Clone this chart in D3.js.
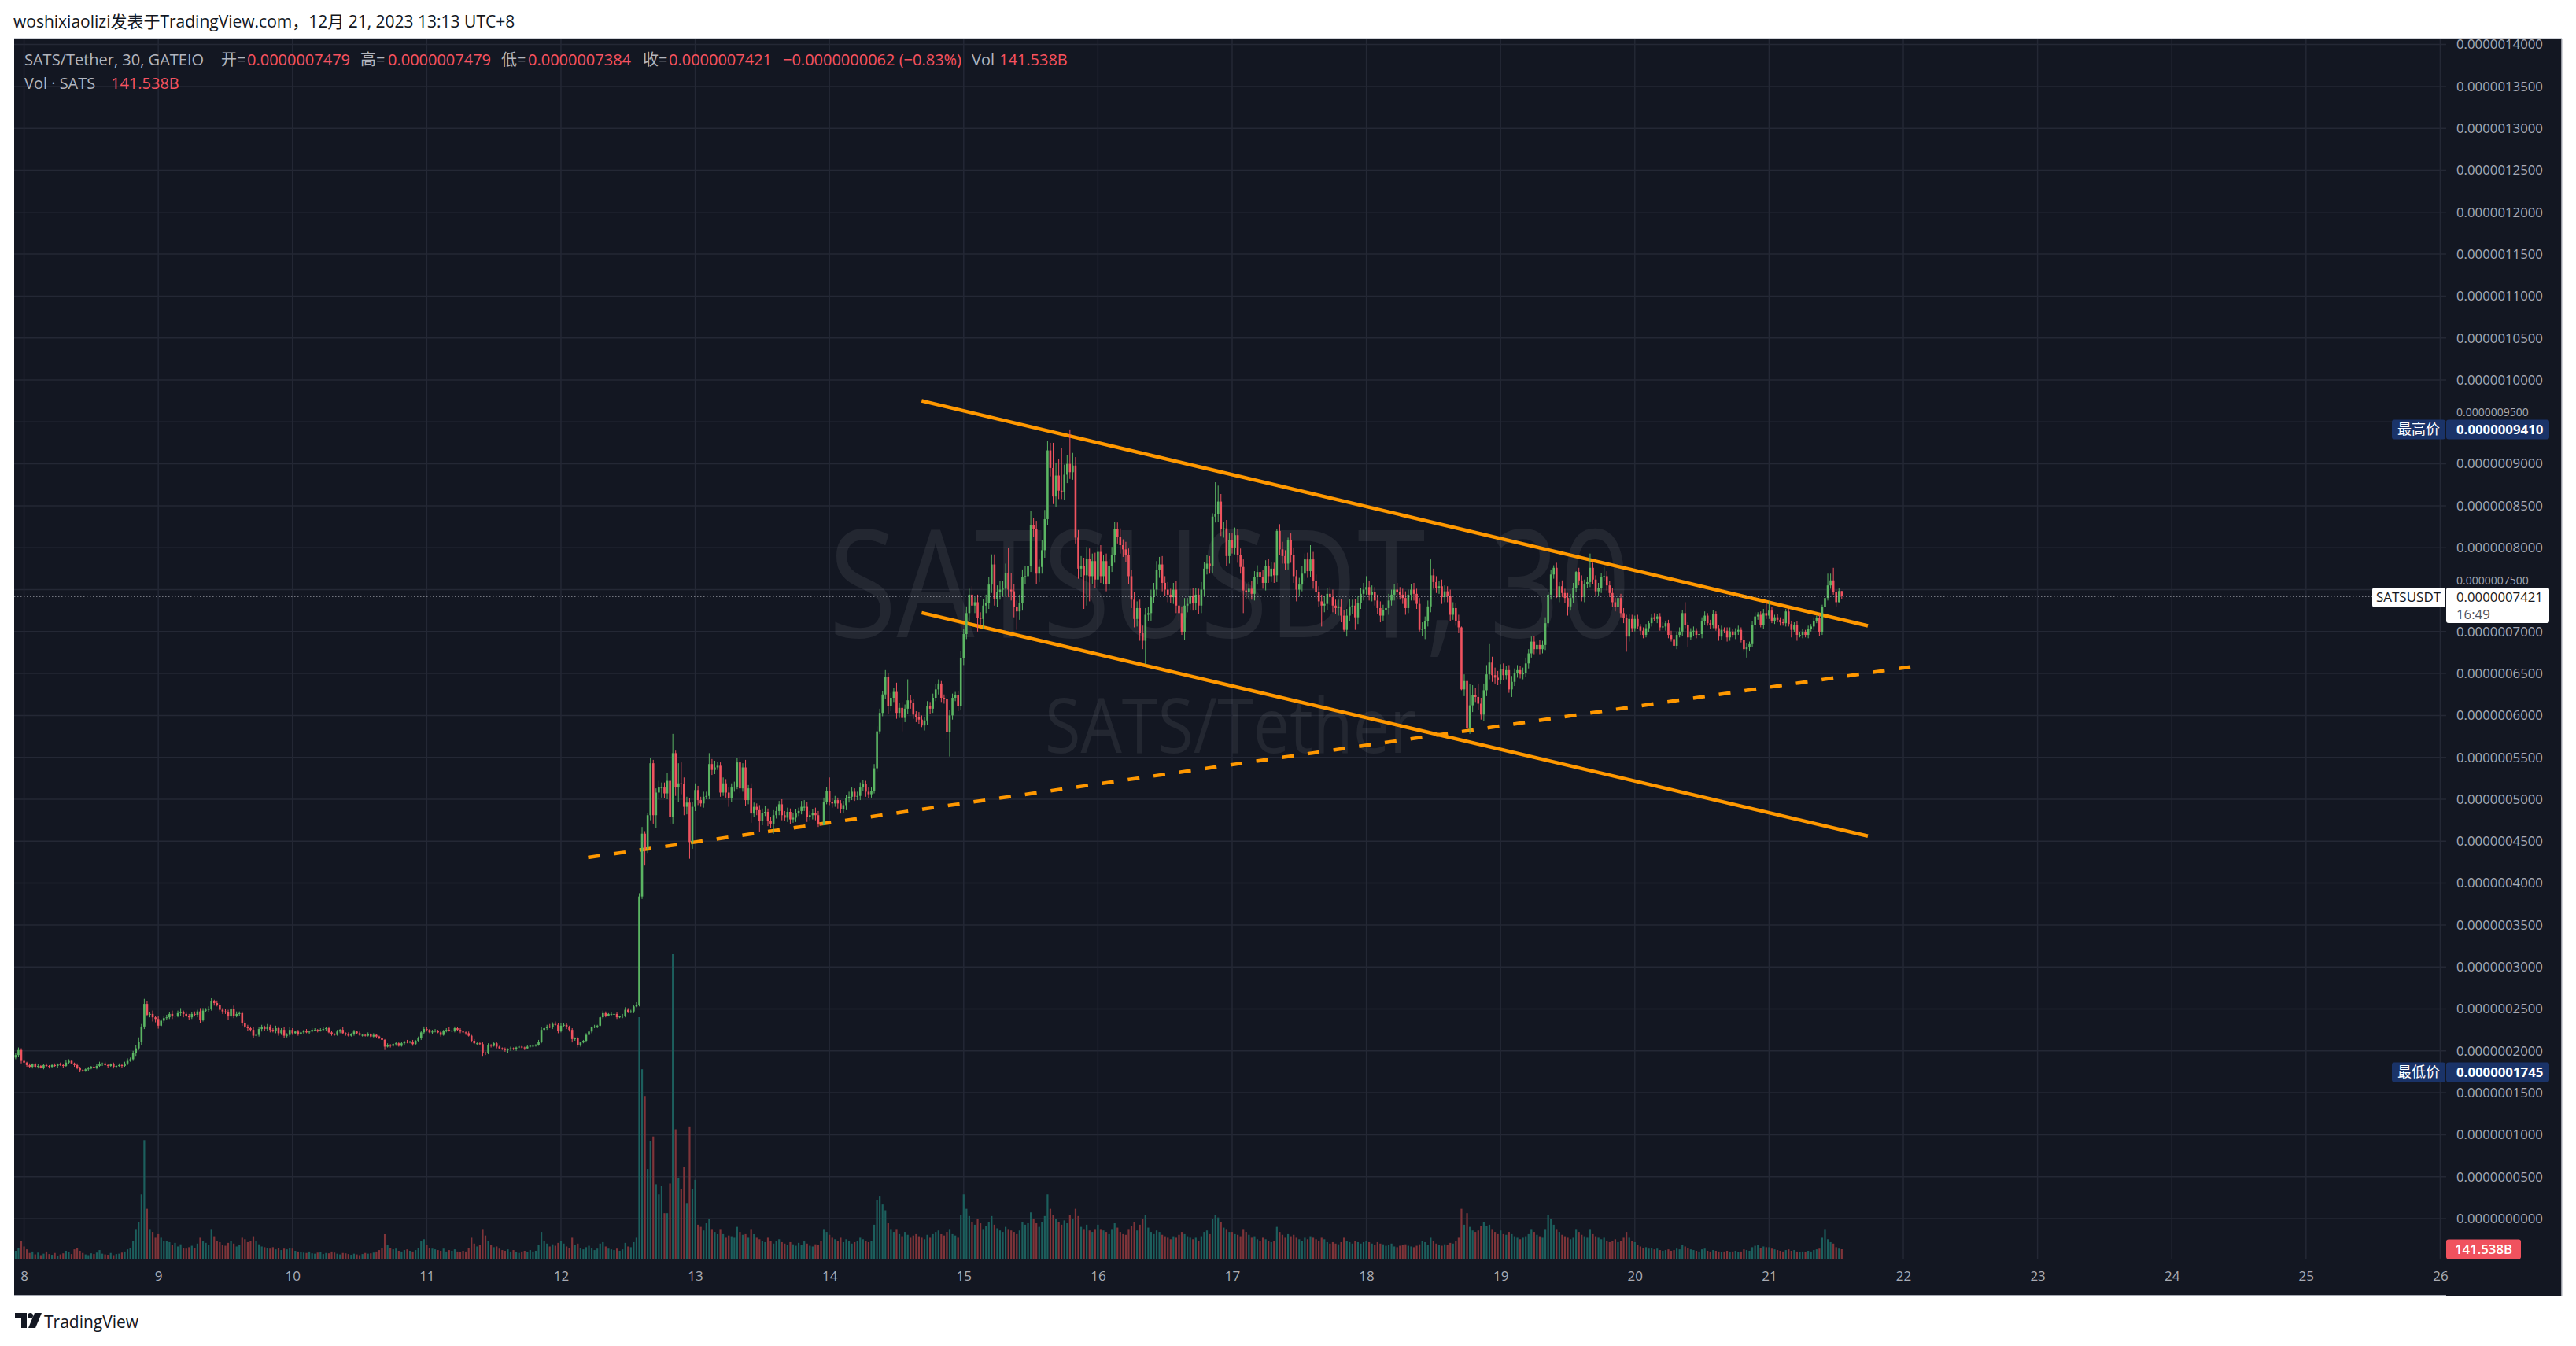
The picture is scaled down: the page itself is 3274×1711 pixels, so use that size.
<!DOCTYPE html>
<html><head><meta charset="utf-8">
<script src="https://cdn.jsdelivr.net/npm/d3@7"></script>
<style>html,body{margin:0;padding:0;background:#ffffff;}svg{display:block;}</style>
</head><body>
<svg id="chart" width="3274" height="1711"></svg>
<script>
// ===== DATA (prices in units of 1e-9 USDT, volume in billions) =====
const rowDays = [7,8,9,10,11,12,13,14,15,16,17,18,19,20,21];
const firstRowStartMin = 22*60+30;   // first row (Dec 7) starts 22:30
const firstOpen = 192;
const closeRows = [
[195,201,188],
[186,183,181,184,181,182,180,183,182,181,183,182,
 184,183,182,186,188,185,183,180,177,176,178,179,
 181,180,182,184,185,183,182,184,181,182,183,182,
 185,188,190,197,203,211,229,256,243,244,240,238],
[230,236,239,240,244,241,242,245,246,244,242,240,
 244,243,247,237,248,249,250,259,257,255,249,247,
 246,241,250,242,244,245,233,229,227,225,218,219,
 226,228,226,229,225,224,227,221,225,218,219,225],
[221,223,220,222,224,222,223,225,225,224,225,226,
 227,222,220,219,223,225,221,220,218,220,223,221,
 219,219,218,220,217,219,217,215,213,205,207,206,
 208,209,206,209,211,210,211,208,212,215,222,226],
[225,222,223,224,222,219,224,225,224,224,227,225,
 223,222,221,218,212,209,209,208,198,197,207,206,
 209,205,203,202,201,202,203,202,204,205,204,203,
 205,206,206,207,211,225,227,229,228,232,231,224],
[230,231,229,225,214,215,207,210,212,219,223,228,
 229,230,240,245,242,244,244,244,240,241,242,249,
 246,247,253,255,384,459,441,481,543,481,508,514,
 514,507,522,479,555,514,519,518,491,496,449,491],
[511,499,495,503,504,542,535,538,540,508,519,508,
 501,514,515,544,513,538,499,513,483,491,487,474,
 484,485,474,471,481,486,494,481,478,485,476,478,
 483,486,491,491,479,481,484,481,471,469,497,510],
[497,495,499,495,488,493,501,503,509,503,504,514,
 518,509,506,510,537,581,603,625,646,611,621,628,
 603,609,597,608,618,615,601,598,595,588,594,611,
 608,621,631,638,621,620,580,600,621,624,611,668],
[697,722,744,731,735,716,715,731,734,756,780,739,
 747,750,751,770,750,748,729,724,734,765,766,778,
 827,822,769,777,797,834,916,895,861,886,868,866,
 887,900,890,898,812,775,778,767,787,766,784,762],
[795,766,784,757,778,791,822,813,803,798,791,766,
 738,715,728,698,689,720,722,741,750,773,780,758,
 750,744,741,750,731,722,699,731,733,743,734,744,
 731,750,775,781,778,837,840,855,822,823,790,809],
[800,815,791,777,749,747,751,745,765,771,765,758,
 778,766,775,767,820,798,790,781,809,791,766,750,
 756,769,786,772,786,760,747,736,731,733,745,741,
 731,728,730,719,702,719,730,731,717,734,745,750],
[753,744,747,737,728,719,726,728,737,744,750,747,
 744,740,728,744,750,745,733,702,703,712,730,767,
 759,752,754,741,748,742,720,728,713,705,631,641,
 585,612,624,622,614,601,630,649,663,648,645,642],
[655,648,654,631,640,651,654,649,651,662,674,688,
 679,684,679,684,710,744,768,776,741,754,746,740,
 730,740,752,771,761,741,757,759,776,762,748,752,
 765,766,755,746,735,729,740,722,716,694,715,704],
[715,706,701,696,704,710,717,715,718,705,706,710,
 696,691,683,696,700,722,708,693,700,701,696,697,
 712,719,710,708,721,704,694,702,701,693,700,696,
 700,702,690,679,681,685,708,718,720,708,722,719],
[725,713,717,714,711,710,724,709,702,708,696,696,
 699,696,703,706,713,716,699,729,740,755,761,747,
 735,748.3,742.1]
];
const wickUpRows = [
[2,3,2],
[2,1,2,1,2,2,1,1,2,1,1,2,1,2,1,3,2,1,1,2,1,1,1,2,1,2,2,3,1,2,1,1,2,1,2,1,2,3,2,3,4,5,3,6,3,2,4,2],
[3,2,2,3,2,4,2,3,5,2,3,2,2,3,2,4,3,2,3,4,2,3,2,2,3,3,2,4,3,2,2,3,2,2,3,2,2,3,2,3,2,2,3,2,2,3,2,3],
[2,1,2,2,1,2,1,2,2,1,2,2,1,2,2,1,2,1,3,1,2,1,2,1,2,1,1,2,1,2,1,1,2,1,2,1,1,2,1,2,1,2,1,2,1,2,2,3],
[2,1,2,2,1,2,1,2,3,1,2,1,2,1,1,2,1,2,1,1,2,1,2,1,1,2,1,1,2,1,2,1,1,2,1,1,2,1,2,1,2,3,2,2,3,2,3,2],
[3,2,2,1,2,1,2,1,1,2,1,1,2,1,2,3,2,1,2,1,2,1,2,3,2,2,2,3,4,8,3,3,6,4,5,8,6,6,9,12,23,3,24,25,8,7,5,6],
[8,5,4,6,5,13,6,8,5,4,7,5,6,5,6,5,7,5,9,4,6,5,4,6,5,7,4,5,6,5,4,6,5,5,4,6,5,4,7,8,6,5,4,6,5,4,5,5],
[16,4,5,3,4,5,4,6,5,4,5,6,5,4,5,4,5,6,5,4,8,5,6,5,11,6,7,5,25,6,5,4,6,5,4,6,5,5,6,5,3,4,5,6,5,4,5,9],
[6,8,7,10,6,9,7,8,10,9,12,12,8,10,9,11,30,20,9,8,10,9,12,10,17,8,10,9,12,11,11,9,30,15,20,51,12,10,41,15,10,9,12,10,14,12,9,10],
[6,8,7,9,8,10,9,8,10,7,9,8,7,9,8,10,9,8,7,9,8,11,9,10,8,9,7,8,10,9,8,9,7,8,9,8,7,9,8,10,9,4,38,19,9,8,10,9],
[8,9,7,8,9,7,8,9,7,8,9,8,7,9,8,7,2,8,9,7,3,8,9,7,8,9,7,8,17,9,8,7,8,9,7,8,9,7,8,9,7,8,9,7,8,9,7,8],
[13,7,8,6,7,8,6,7,8,6,7,8,6,7,8,6,7,8,6,7,8,6,7,19,8,7,6,8,7,6,8,7,6,7,1,8,3,25,12,9,16,7,8,11,22,7,9,8],
[6,7,5,6,7,5,6,5,6,7,5,6,7,5,6,5,7,4,6,3,6,5,7,5,6,5,6,1,5,6,5,6,17,6,5,6,5,11,6,5,6,5,6,5,6,4,6,5],
[4,5,3,4,5,3,4,5,3,4,5,3,4,5,3,4,5,4,13,3,4,5,3,4,5,5,3,4,5,3,4,5,3,4,5,3,4,5,3,4,5,3,4,5,3,4,5,14],
[11,4,3,4,3,4,3,3,4,3,4,3,4,3,4,3,4,3,4,3,4,14,8,15,3,3,0]
];
const wickDownRows = [
[2,2,3],
[3,2,1,2,1,2,1,2,1,2,1,1,2,1,2,1,2,1,2,2,2.5,1,1,2,1,1,2,1,2,1,2,1,2,1,1,2,1,2,1,2,3,2,4,3,2,3,5,4],
[3.5,2,3,2,2,3,2,2,3,4,2,3,2,2,3,4,2,2,3,2,3,2,2,3,2,4,2,3,2,2,3,2,3,2,3,2,2,3,2,2,3,2,3,3,2,3,2,2],
[2,1,2,1,2,1,2,1,1,2,1,1,2,1,2,1,1,2,1,2,1,1,2,1,1,2,1,1,2,1,2,1,2,4,1,2,1,2,1,1,2,1,1,2,1,1,2,2],
[2,1,2,1,1,2,1,2,1,1,2,1,2,1,2,1,2,1,2,1,4,2,1,2,1,2,1,1,2,4,2,1,2,1,1,2,1,1,2,1,1,2,1,2,1,2,1,3],
[2,1,3,2,4,2,3,2,1,2,1,2,1,2,1,2,2,1,2,1,2,1,2,2,1,1,2,1,2,3,20,5,6,10,15,8,12,6,7,9,8,10,17,12,10,9,20,8],
[5,6,4,5,3,4,6,5,3,5,4,6,10,4,5,3,6,4,7,5,11,4,6,13,5,4,6,5,12,4,5,6,4,5,6,4,5,3,4,5,6,4,5,6,4,5,0,3],
[4,5,4,6,5,4,6,5,4,5,4,5,4,6,5,4,3,4,3,4,5,9,6,5,7,6,16,5,6,7,5,6,5,2,6,5,6,5,4,6,5,6,8,29,5,4,6,5],
[8,6,10,8,9,16,8,12,9,7,10,8,10,9,8,10,9,11,12,22,10,9,8,10,7,9,12,10,8,9,7,10,9,12,10,8,9,10,8,9,7,12,10,40,36,30,9,10],
[9,8,10,9,8,7,9,8,10,9,8,9,10,10,9,9,10,28,8,9,7,8,9,10,8,9,7,8,9,10,3,9,8,7,9,8,10,9,8,7,9,8,7,9,8,10,12,9],
[7,8,9,8,27,8,9,7,8,9,8,7,9,8,7,9,8,7,9,8,7,9,8,14,7,8,9,8,7,9,8,7,25,8,7,9,8,7,9,8,2,8,7,9,15,8,7,8],
[6,7,8,6,7,8,6,7,8,6,7,8,6,7,8,6,7,8,6,2,7,12,6,7,8,6,7,8,6,7,8,6,6,7,1,8,2,7,8,6,7,6,8,7,6,8,7,6],
[5,6,5,4,9,5,6,5,6,5,6,5,6,5,6,5,6,5,6,5,1,6,5,6,11,5,6,5,6,5,6,5,6,5,6,5,6,5,6,5,6,5,6,5,6,18,6,5],
[4,3,5,4,3,5,4,3,5,4,3,5,4,3,2,4,3,5,4,11,3,5,4,3,5,4,3,5,4,3,5,4,3,5,4,3,5,4,3,3,10,4,3,5,4,3,5,4],
[4,3,4,3,4,3,4,3,9,3,7,3,4,3,4,3,4,3,4,3,4,3,4,3,5,0,3.7]
];
const volumeRows = [
[120,160,260],
[180,140,90,110,70,95,60,80,110,75,65,90,55,70,85,120,100,75,140,160,120,90,70,60,85,75,95,130,80,70,65,90,60,75,80,95,110,140,160,260,420,520,900,1650,700,420,380,300],
[360,300,250,260,240,200,230,180,210,160,150,170,190,160,220,300,250,230,200,420,320,260,240,200,190,230,260,220,180,200,300,280,240,260,320,250,210,180,170,160,150,170,140,160,130,150,140,160],
[150,120,110,100,95,90,110,85,80,95,100,75,90,85,110,95,80,70,90,85,75,65,80,70,60,75,90,80,85,95,110,130,160,350,200,160,140,150,120,110,130,140,120,110,130,160,250,280],
[200,160,150,140,130,120,150,110,130,120,140,110,100,120,110,160,300,220,180,200,420,330,260,200,170,180,150,130,120,140,110,130,100,90,110,120,100,130,110,120,200,380,260,220,180,210,190,230],
[260,220,180,160,300,200,220,160,140,170,190,160,130,150,220,240,180,150,140,130,150,120,140,230,180,170,240,300,3350,2630,2260,1250,1640,1700,1040,900,1020,640,640,1050,4220,1800,1130,970,1280,780,1840,970],
[1100,480,450,400,500,560,420,380,350,420,360,300,330,320,300,450,380,340,360,300,420,350,300,280,260,240,300,250,220,260,280,240,220,200,240,210,190,230,200,250,220,190,180,210,200,260,420,380],
[340,300,280,260,300,240,280,260,220,240,260,300,280,250,240,260,480,820,880,760,680,500,420,380,420,360,320,380,340,300,330,360,320,300,280,340,300,360,380,400,350,330,380,420,360,330,300,620],
[900,700,600,520,480,560,500,420,460,520,600,480,430,400,380,450,420,400,380,360,400,520,480,500,650,560,500,450,520,600,900,700,620,560,520,480,540,500,620,560,700,600,450,420,480,400,380,420],
[480,420,400,380,360,420,500,440,380,360,340,420,460,520,400,480,560,620,440,380,360,400,380,340,320,300,280,320,300,340,380,360,320,300,280,300,260,320,380,400,360,560,620,580,520,440,420,380],
[380,360,340,320,420,380,340,300,320,280,260,300,280,260,240,260,450,380,340,300,360,320,340,300,280,260,300,280,320,300,280,260,300,280,240,220,240,220,210,240,300,260,240,220,260,240,220,240],
[260,240,220,200,240,220,210,190,200,220,180,170,190,200,210,190,180,170,190,210,260,240,200,300,260,220,200,190,210,200,230,220,250,300,700,480,640,450,400,380,400,460,520,460,480,420,380,360],
[400,360,340,380,360,320,300,280,300,320,360,420,380,340,320,300,420,620,560,480,420,380,340,320,300,280,300,420,380,340,320,300,420,360,320,300,280,300,260,240,260,280,240,260,300,380,300,260],
[240,200,180,160,170,150,160,140,150,130,120,130,140,120,130,150,140,200,180,160,140,130,120,110,140,150,120,110,130,120,110,100,110,120,100,110,120,100,110,140,130,120,170,190,200,160,180,170],
[170,150,140,130,120,110,130,140,120,130,110,100,110,100,120,110,130,140,150,300,420,280,240,220,170,150,141.538]
];
// trend lines drawn on the chart: [time, price(1e-9)]
const channelUpper = [[Date.UTC(2023,11,14,16,29), 975.1], [Date.UTC(2023,11,21,17,40), 706.8]];
const channelLower = [[Date.UTC(2023,11,14,16,29), 722.5], [Date.UTC(2023,11,21,17,40), 456.1]];
const supportDashed = [[Date.UTC(2023,11,12,4,51), 430.6], [Date.UTC(2023,11,22,1,16), 657.9]];
// axis tick values
const priceTicks = d3.range(0, 1401, 50);          // 1e-9 units
const dayTicks = d3.range(8, 27);                   // Dec 8 .. Dec 26
// legend texts
const titleText = "woshixiaolizi发表于TradingView.com，12月 21, 2023 13:13 UTC+8";
const symbolText = "SATS/Tether, 30, GATEIO";
const legendLabels = ["开=", "高=", "低=", "收="];
const legendValues = [747.9, 747.9, 738.4, 742.1];
const legendChange = ["−0.0000000062 (−0.83%)"];
const lastVolumeText = "141.538B";
const countdownText = "16:49";

// ===== LAYOUT =====
const paneL = 18, paneR = 3109, paneT = 49, plotB = 1601, paneB = 1647, axisR = 3256;
const FONT = "'Open Sans','Noto Sans CJK SC',sans-serif";
const BG = "#131722", GRID = "#242835", AXIS_TXT = "#a9acb5";
const UP = "#5bb563", DOWN = "#f0535f";
const VUP = "#1c5f5d", VDOWN = "#7f3439";

const svg = d3.select("#chart");

// build candles
const candles = [];
let prevClose = firstOpen;
closeRows.forEach((row, r) => {
  const start = r === 0 ? firstRowStartMin : 0;
  row.forEach((c, j) => {
    const t = new Date(Date.UTC(2023, 11, rowDays[r], 0, start + 30 * j));
    const o = prevClose;
    candles.push({t, o, c,
      h: Math.max(o, c) + wickUpRows[r][j],
      l: Math.min(o, c) - wickDownRows[r][j],
      v: volumeRows[r][j]});
    prevClose = c;
  });
});

const x = d3.scaleUtc()
  .domain([new Date(Date.UTC(2023,11,7,22,14)), new Date(Date.UTC(2023,11,26,1,4))])
  .range([paneL, paneR]);
const y = d3.scaleLinear().domain([0, 1400]).range([1549, 56.6]);
const yv = d3.scaleLinear().domain([0, d3.max(candles, d => d.v)]).range([plotB, 1213]);
const fmt = v => (v * 1e-9).toFixed(10);
const last = candles[candles.length - 1];
const hiVal = d3.max(candles, d => d.h), loVal = d3.min(candles, d => d.l);

// background
svg.append("rect").attr("x", paneL).attr("y", paneT).attr("width", axisR - paneL).attr("height", paneB - paneT).attr("fill", BG);

// grid
const grid = svg.append("g");
grid.selectAll("line.h").data(priceTicks).join("line")
  .attr("x1", paneL).attr("x2", paneR).attr("y1", d => y(d)).attr("y2", d => y(d))
  .attr("stroke", GRID).attr("stroke-width", 1.5);
grid.selectAll("line.v").data(dayTicks).join("line")
  .attr("x1", d => x(new Date(Date.UTC(2023,11,d)))).attr("x2", d => x(new Date(Date.UTC(2023,11,d))))
  .attr("y1", paneT).attr("y2", plotB)
  .attr("stroke", GRID).attr("stroke-width", 1.5);

// watermark
svg.append("text").attr("x", 1563).attr("y", 810).attr("text-anchor", "middle")
  .attr("font-family", FONT).attr("font-size", 190).attr("textLength", 1019).attr("lengthAdjust", "spacingAndGlyphs")
  .attr("fill", "rgba(255,255,255,0.07)").text("SATSUSDT, 30");
svg.append("text").attr("x", 1564).attr("y", 957).attr("text-anchor", "middle")
  .attr("font-family", FONT).attr("font-size", 97).attr("textLength", 472).attr("lengthAdjust", "spacingAndGlyphs")
  .attr("fill", "rgba(255,255,255,0.07)").text("SATS/Tether");

// volume bars
svg.append("g").selectAll("rect").data(candles).join("rect")
  .attr("x", d => x(d.t) - 1.1).attr("width", 2.2)
  .attr("y", d => yv(d.v)).attr("height", d => plotB - yv(d.v))
  .attr("fill", d => d.c >= d.o ? VUP : VDOWN);

// trend lines
const line = d3.line().x(d => x(new Date(d[0]))).y(d => y(d[1]));
[channelUpper, channelLower].forEach(seg => {
  svg.append("path").attr("d", line(seg)).attr("stroke", "#ff9800").attr("stroke-width", 4.5).attr("fill", "none");
});
svg.append("path").attr("d", line(supportDashed)).attr("stroke", "#ff9800").attr("stroke-width", 4.5)
  .attr("stroke-dasharray", "15 18").attr("fill", "none");

// candles
const cg = svg.append("g");
cg.selectAll("line").data(candles).join("line")
  .attr("x1", d => x(d.t)).attr("x2", d => x(d.t))
  .attr("y1", d => y(d.h)).attr("y2", d => y(d.l))
  .attr("stroke", d => d.c >= d.o ? UP : DOWN).attr("stroke-width", 1);
cg.selectAll("rect").data(candles).join("rect")
  .attr("x", d => x(d.t) - 1.3).attr("width", 2.6)
  .attr("y", d => y(Math.max(d.o, d.c)))
  .attr("height", d => Math.max(1, Math.abs(y(d.o) - y(d.c))))
  .attr("fill", d => d.c >= d.o ? UP : DOWN);

// last price dotted line
svg.append("line").attr("x1", paneL).attr("x2", 3015).attr("y1", y(last.c)).attr("y2", y(last.c))
  .attr("stroke", "#d1d4dc").attr("stroke-width", 1.2).attr("stroke-dasharray", "1.5 2.5");

// price axis; labels that would sit under a price tag are lifted just above the tag
const tagTops = [y(hiVal) - 12.5, y(last.c) - 11];
const ya = svg.append("g").attr("transform", `translate(${paneR},0)`)
  .call(d3.axisRight(y).tickValues(priceTicks).tickFormat(fmt).tickSize(0).tickPadding(13));
ya.select(".domain").remove();
ya.selectAll("text").attr("fill", AXIS_TXT).attr("font-family", FONT).attr("font-size", 16.8);
ya.selectAll(".tick").each(function(d) {
  const yt = y(d);
  const hit = tagTops.find(t => yt > t - 12 && yt < t + 30);
  if (hit !== undefined) {
    d3.select(this).select("text").attr("font-size", 14).attr("dy", null).attr("y", hit - yt - 4.5);
  }
});

// time axis
const xa = svg.append("g").attr("transform", `translate(0,${plotB})`)
  .call(d3.axisBottom(x).tickValues(dayTicks.map(d => new Date(Date.UTC(2023,11,d)))).tickFormat(d => d.getUTCDate()).tickSize(0).tickPadding(15));
xa.select(".domain").remove();
xa.selectAll("text").attr("fill", AXIS_TXT).attr("font-family", FONT).attr("font-size", 17);

// frame borders
svg.append("line").attr("x1", paneL).attr("x2", axisR).attr("y1", paneT).attr("y2", paneT).attr("stroke", "#c3c6ce").attr("stroke-width", 1.5);
svg.append("line").attr("x1", paneL).attr("x2", paneR).attr("y1", paneB).attr("y2", paneB).attr("stroke", "#a3a6af").attr("stroke-width", 2);
svg.append("line").attr("x1", axisR).attr("x2", axisR).attr("y1", paneT).attr("y2", paneB).attr("stroke", "#c3c6ce").attr("stroke-width", 1.5);

// high / low labels
function tagPair(labelTxt, valTxt, yc, fillC, txtC, leftX) {
  const g = svg.append("g");
  g.append("rect").attr("x", leftX).attr("y", yc - 12.5).attr("width", paneR - 1 - leftX).attr("height", 25).attr("rx", 3).attr("fill", fillC);
  g.append("rect").attr("x", paneR).attr("y", yc - 12.5).attr("width", 131).attr("height", 25).attr("rx", 3).attr("fill", fillC);
  g.append("text").attr("x", (leftX + paneR - 1) / 2).attr("y", yc).attr("dy", "0.35em").attr("text-anchor", "middle")
    .attr("font-family", FONT).attr("font-size", 18).attr("fill", txtC).text(labelTxt);
  g.append("text").attr("x", paneR + 13).attr("y", yc).attr("dy", "0.35em")
    .attr("font-family", FONT).attr("font-size", 16.8).attr("font-weight", 700).attr("fill", txtC).text(valTxt);
}
tagPair("最高价", fmt(hiVal), y(hiVal), "#1a3368", "#ffffff", 3040);
tagPair("最低价", fmt(loVal), y(loVal), "#1a3368", "#ffffff", 3040);

// last price label
{
  const yc = y(last.c);
  const g = svg.append("g");
  g.append("rect").attr("x", 3015).attr("y", yc - 11).attr("width", 93).attr("height", 25).attr("rx", 3).attr("fill", "#ffffff");
  g.append("rect").attr("x", paneR).attr("y", yc - 11).attr("width", 131).attr("height", 45).attr("rx", 3).attr("fill", "#ffffff");
  g.append("text").attr("x", 3061).attr("y", yc + 1.5).attr("dy", "0.35em").attr("text-anchor", "middle")
    .attr("font-family", FONT).attr("font-size", 17).attr("fill", "#131722").text("SATSUSDT");
  g.append("text").attr("x", paneR + 13).attr("y", yc + 1.5).attr("dy", "0.35em")
    .attr("font-family", FONT).attr("font-size", 16.8).attr("fill", "#131722").text(fmt(last.c));
  g.append("text").attr("x", paneR + 13).attr("y", yc + 23.5).attr("dy", "0.35em")
    .attr("font-family", FONT).attr("font-size", 16.8).attr("fill", "#50535e").text(countdownText);
}

// last volume label
{
  const yc = Math.min(yv(last.v), plotB - 12.5);
  svg.append("rect").attr("x", paneR).attr("y", yc - 12.5).attr("width", 95).attr("height", 25).attr("rx", 3).attr("fill", "#f0525e");
  svg.append("text").attr("x", paneR + 47.5).attr("y", yc).attr("dy", "0.35em").attr("text-anchor", "middle")
    .attr("font-family", FONT).attr("font-size", 16.8).attr("font-weight", 600).attr("fill", "#ffffff").text(lastVolumeText);
}

// legend
const LG = "#b2b5be", LR = "#f7525f";
const lg = svg.append("g").attr("font-family", FONT).attr("font-size", 20);
lg.append("text").attr("x", 31).attr("y", 83).attr("fill", LG).text(symbolText);
const labX = [281, 458, 637, 817], valX = [314, 493, 671, 850];
legendLabels.forEach((l, i) => {
  lg.append("text").attr("x", labX[i]).attr("y", 83).attr("fill", LG).text(l);
  lg.append("text").attr("x", valX[i]).attr("y", 83).attr("fill", LR).text(fmt(legendValues[i]));
});
lg.append("text").attr("x", 995).attr("y", 83).attr("fill", LR).text(legendChange[0]);
lg.append("text").attr("x", 1235).attr("y", 83).attr("fill", LG).text("Vol");
lg.append("text").attr("x", 1270).attr("y", 83).attr("fill", LR).text(lastVolumeText);
lg.append("text").attr("x", 31).attr("y", 113).attr("fill", LG).text("Vol · SATS");
lg.append("text").attr("x", 141).attr("y", 113).attr("fill", LR).text(lastVolumeText);

// title
svg.append("text").attr("x", 17).attr("y", 35).attr("font-family", FONT).attr("font-size", 21).attr("fill", "#131722").text(titleText);

// TradingView logo
const logo = svg.append("g").attr("fill", "#131722");
logo.append("path").attr("d", "M19,1669 H34 V1688 H27 V1676 H19 Z");
logo.append("circle").attr("cx", 38.5).attr("cy", 1672.5).attr("r", 3.5);
logo.append("path").attr("d", "M44,1669 H53 L45,1688 H36 Z");
svg.append("text").attr("x", 56).attr("y", 1688).attr("font-family", FONT).attr("font-size", 21).attr("fill", "#131722").text("TradingView");
</script>
</body></html>
